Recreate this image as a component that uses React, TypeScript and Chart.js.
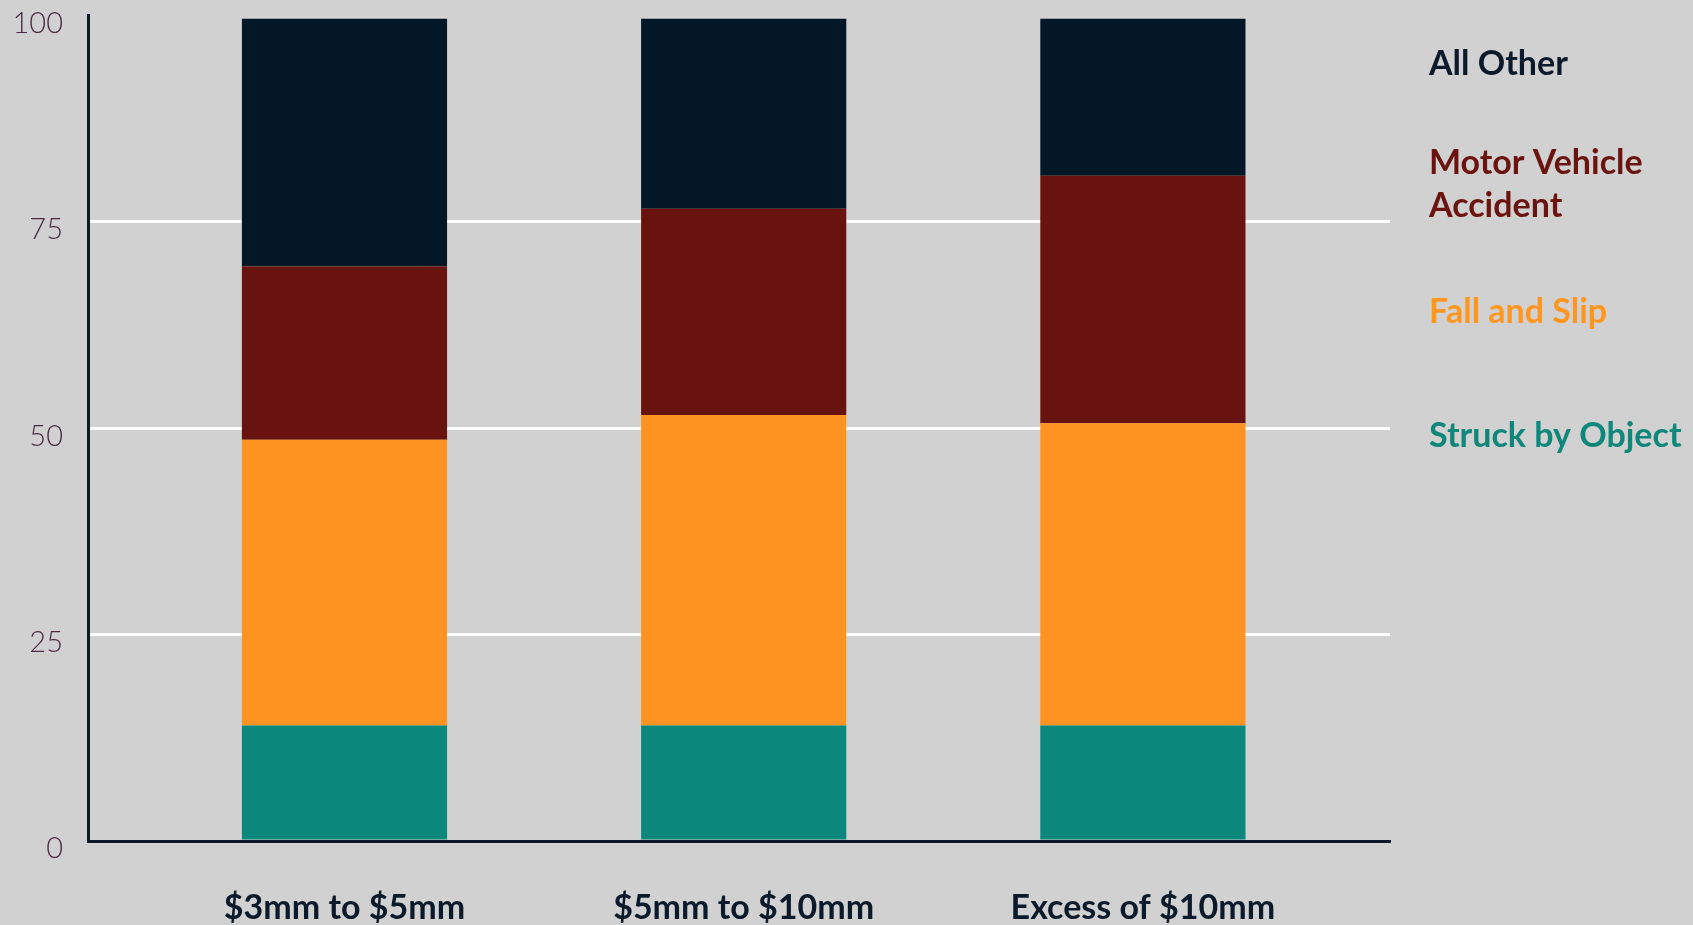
import React, { useEffect, useRef } from "react";
import { Chart, registerables } from "chart.js";

Chart.register(...registerables);

const categories = ["$3mm to $5mm", "$5mm to $10mm", "Excess of $10mm"];
const struckByObject = [14, 14, 14];
const fallAndSlip = [34.6, 37.6, 36.6];
const motorVehicleAccident = [21, 25, 30];
const allOther = [30.0, 23.0, 19.0];
const yTicks = [0, 25, 50, 75, 100];

const seriesNames = ["Struck by Object", "Fall and Slip", "Motor Vehicle Accident", "All Other"];
const legendLines = [["All Other"], ["Motor Vehicle", "Accident"], ["Fall and Slip"], ["Struck by Object"]];
const legendColors = ["#0b1a2b", "#6b140f", "#ff961f", "#10877b"];

const BG = "#d1d1d1";
const NAVY = "#0a1a2a";

const sideLegend = {
  id: "sideLegend",
  afterDraw(chart: any, _args: any, opts: any) {
    const ctx = chart.ctx;
    ctx.save();
    ctx.font = opts.font;
    ctx.textAlign = "left";
    ctx.textBaseline = "alphabetic";
    legendLines.forEach((lines, i) => {
      ctx.fillStyle = legendColors[i];
      lines.forEach((line, j) => {
        ctx.fillText(line, opts.x, opts.baselines[i] + j * opts.lineHeight);
      });
    });
    ctx.restore();
  },
};

export default function App() {
  const ref = useRef<HTMLCanvasElement | null>(null);

  useEffect(() => {
    document.body.style.margin = "0";
    document.body.style.background = BG;
    const mk = (arr: number[]) => arr.map((v, i) => ({ x: i, y: v }));
    const colors = ["#0c877c", "#ff9321", "#69130e", "#041726"];
    const values = [struckByObject, fallAndSlip, motorVehicleAccident, allOther];
    const chart = new Chart(ref.current as HTMLCanvasElement, {
      type: "bar",
      data: {
        datasets: values.map((arr, i) => ({
          label: seriesNames[i],
          data: mk(arr),
          backgroundColor: colors[i],
          borderWidth: 0,
          categoryPercentage: 0.514,
          barPercentage: 1,
        })),
      },
      options: {
        animation: false,
        responsive: false,
        devicePixelRatio: 1,
        layout: { padding: { top: 15.5, right: 303, bottom: 0, left: 0 } },
        plugins: {
          legend: { display: false },
          tooltip: { enabled: false },
          sideLegend: {
            x: 1429,
            baselines: [75, 174, 322.7, 446.7],
            lineHeight: 42.7,
            font: "bold 34px Lato",
          },
        } as any,
        scales: {
          x: {
            type: "linear",
            stacked: true,
            offset: false,
            min: -0.6425,
            max: 2.619,
            grid: { display: false, drawTicks: false, offset: false },
            border: { display: true, color: NAVY, width: 3, z: 1 },
            ticks: {
              stepSize: 1,
              includeBounds: false,
              autoSkip: false,
              maxRotation: 0,
              padding: 47,
              color: NAVY,
              font: { family: "Lato", weight: "bold", size: 34 },
              callback: (v: any) => (Number.isInteger(v) ? categories[v] ?? "" : ""),
            },
            afterFit: (s: any) => {
              s.height = 84;
              s.paddingLeft = 0;
              s.paddingRight = 0;
            },
          },
          y: {
            stacked: true,
            min: 0,
            max: 100,
            grid: {
              drawTicks: false,
              lineWidth: 3,
              color: (c: any) => {
                const v = c.tick ? c.tick.value : 0;
                return v > 0 && v < 100 ? "#ffffff" : "rgba(0,0,0,0)";
              },
            },
            border: { display: true, color: NAVY, width: 3, z: 1 },
            afterBuildTicks: (s: any) => {
              s.ticks = yTicks.map((v) => ({ value: v }));
            },
            ticks: {
              padding: 25,
              labelOffset: 8,
              color: "#4b2c43",
              font: { family: "Lato", weight: "300", size: 29 },
            },
            afterFit: (s: any) => {
              s.width = 88;
              s.paddingTop = 0;
              s.paddingBottom = 0;
            },
          },
        },
      },
      plugins: [sideLegend],
    });
    return () => chart.destroy();
  }, []);

  return (
    <div style={{ width: 1693, height: 925, background: BG, position: "relative" }}>
      <canvas ref={ref} width={1693} height={925} style={{ display: "block" }} />
    </div>
  );
}
